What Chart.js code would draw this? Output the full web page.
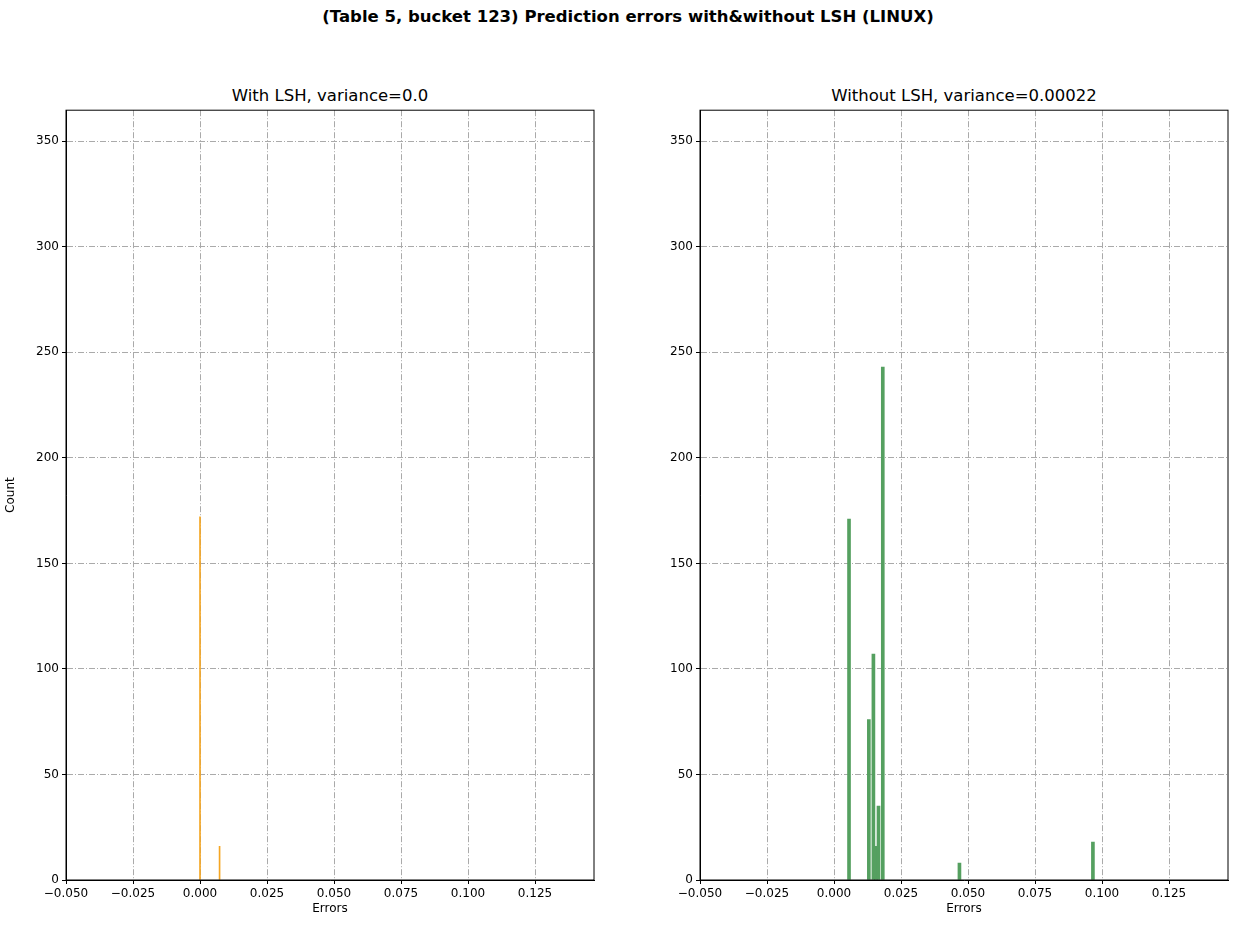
<!DOCTYPE html>
<html><head><meta charset="utf-8">
<script src="https://cdn.jsdelivr.net/npm/chart.js@4/dist/chart.umd.min.js"></script>
<style>
body{margin:0;width:1238px;height:933px;background:#fff;font-family:"DejaVu Sans",sans-serif;position:relative;overflow:hidden}
.t{position:absolute;white-space:nowrap;transform:translateX(-50%)}
canvas{position:absolute}
</style></head><body>
<div class="t" style="left:628px;top:7px;font-size:16.5px;font-weight:bold">(Table 5, bucket 123) Prediction errors with&amp;without LSH (LINUX)</div>
<div class="t" style="left:330px;top:86px;font-size:16.5px">With LSH, variance=0.0</div>
<div class="t" style="left:964px;top:86px;font-size:16.5px">Without LSH, variance=0.00022</div>
<div style="position:absolute;left:0;top:100px;width:620px;height:820px"><canvas id="c1"></canvas></div>
<div style="position:absolute;left:634px;top:100px;width:600px;height:820px"><canvas id="c2"></canvas></div>
<script>
const withErrors=[0.0,0.0073];
const withCounts=[172,16];
const withoutErrors=[0.0056,0.0130,0.0147,0.0156,0.0166,0.0182,0.0468,0.0966];
const withoutCounts=[171,76,107,16,35,243,8,18];
const xTicks=[-0.05,-0.025,0,0.025,0.05,0.075,0.1,0.125];
const yTicks=[0,50,100,150,200,250,300,350];
function fmt(v){return (v<0?'\u2212':'')+Math.abs(v).toFixed(3);}
function make(id,xs,ys,color,thick,showY,rightPad){
  const grid={color:'#aaa',offset:false,lineWidth:1,drawTicks:true,tickColor:'#000',tickLength:4};
  const border={color:'#000',dash:[6,2,1,2]};
  new Chart(document.getElementById(id),{type:'bar',
    data:{datasets:[{data:xs.map((x,i)=>({x:x,y:ys[i]})),backgroundColor:color,barThickness:thick,grouped:false}]},
    options:{responsive:true,maintainAspectRatio:false,animation:false,
      layout:{padding:{top:10,right:rightPad,left:0,bottom:0}},
      plugins:{legend:{display:false},tooltip:{enabled:false}},
      scales:{
        x:{type:'linear',min:-0.05,max:0.147,offset:false,grid:grid,border:border,
          afterBuildTicks:a=>{a.ticks=xTicks.map(v=>({value:v}));},
          afterFit:a=>{a.height=40;},
          ticks:{color:'#000',font:{size:12,family:'DejaVu Sans'},maxRotation:0,callback:v=>fmt(v),padding:3},
          title:{display:true,text:'Errors',color:'#000',font:{size:12,family:'DejaVu Sans'},padding:{top:0}}},
        y:{min:0,max:364.7,grid:grid,border:border,
          afterBuildTicks:a=>{a.ticks=yTicks.map(v=>({value:v}));},
          afterFit:a=>{a.width=66;},
          ticks:{color:'#000',font:{size:12,family:'DejaVu Sans'},padding:3},
          title:{display:showY,text:'Count',color:'#000',font:{size:12,family:'DejaVu Sans'},padding:{bottom:12}}}
      }},
    plugins:[{id:'frame',afterDraw(c){const a=c.chartArea,x=c.ctx;x.save();x.strokeStyle='#000';x.lineWidth=1;x.setLineDash([]);x.strokeRect(a.left,a.top,a.right-a.left,a.bottom-a.top);x.restore();}}]
  });
}
make('c1',withErrors,withCounts,'#f5a623',1,true,26);
make('c2',withoutErrors,withoutCounts,'#55a060',3,false,6);
</script></body></html>
